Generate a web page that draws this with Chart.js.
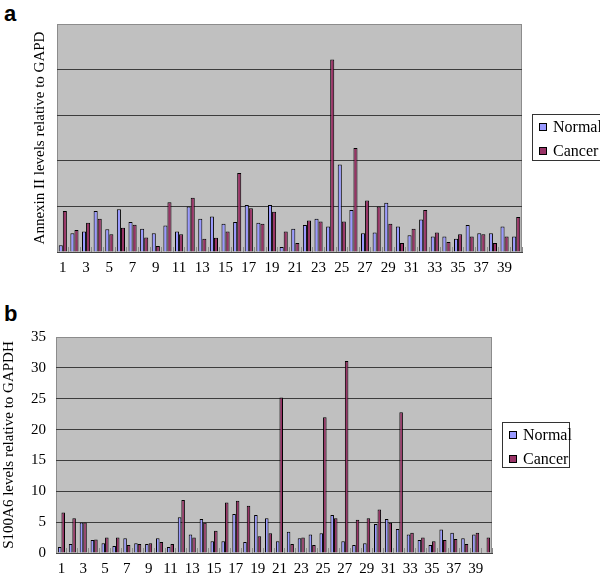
<!DOCTYPE html>
<html>
<head>
<meta charset="utf-8">
<script src="https://cdn.jsdelivr.net/npm/chart.js@4.4.0/dist/chart.umd.min.js"></script>
<style>
  body { margin: 0; background: #fff; width: 600px; height: 579px; overflow: hidden; position: relative; }
  .panel { position: absolute; left: 0; width: 600px; }
  .tag { position: absolute; font-family: "Liberation Sans", Arial, sans-serif; font-weight: bold; font-size: 22px; line-height: 22px; }
</style>
</head>
<body>
<div class="tag" style="left:4px; top:3px;">a</div>
<div class="tag" style="left:4px; top:303px;">b</div>

<div class="panel" style="top:0; height:285px;"><canvas id="chartA"></canvas></div>
<div class="panel" style="top:290px; height:289px;"><canvas id="chartB"></canvas></div>

<script>
// muestras 1..40
const samples = Array.from({length: 40}, (_, i) => String(i + 1));
const seriesNames = ['Normal', 'Cancer'];
const seriesColors = ['#9999FF', '#993366'];

// panel a: Annexin II / GAPD
const annexinNormal = [0.15, 0.41, 0.45, 0.90, 0.50, 0.94, 0.66, 0.51, 0.41, 0.58,
                       0.45, 1.00, 0.73, 0.78, 0.62, 0.66, 1.03, 0.64, 1.03, 0.11,
                       0.51, 0.59, 0.73, 0.56, 1.92, 0.92, 0.41, 0.43, 1.08, 0.56,
                       0.37, 0.71, 0.34, 0.34, 0.29, 0.59, 0.41, 0.41, 0.56, 0.34];
const annexinCancer = [0.90, 0.48, 0.64, 0.73, 0.39, 0.53, 0.60, 0.32, 0.13, 1.09,
                       0.39, 1.19, 0.29, 0.31, 0.45, 1.73, 0.96, 0.62, 0.88, 0.45,
                       0.20, 0.69, 0.67, 4.22, 0.67, 2.28, 1.13, 1.00, 0.62, 0.20,
                       0.51, 0.92, 0.43, 0.22, 0.39, 0.34, 0.39, 0.20, 0.34, 0.77];

// panel b: S100A6 / GAPDH
const s100Normal = [0.97, 1.45, 4.95, 2.10, 1.60, 1.13, 2.40, 1.60, 1.45, 2.40,
                    0.97, 5.80, 3.00, 5.50, 1.90, 1.90, 6.30, 1.80, 6.14, 5.65,
                    1.90, 3.45, 2.40, 3.00, 3.20, 6.14, 1.90, 1.30, 1.60, 4.70,
                    5.50, 3.90, 3.00, 2.10, 1.30, 3.80, 3.30, 2.40, 3.00, 0.10];
const s100Cancer = [6.57, 5.65, 4.95, 2.20, 2.50, 2.50, 1.30, 1.45, 1.60, 1.80,
                    1.45, 8.60, 2.50, 4.90, 3.60, 8.20, 8.45, 7.65, 2.70, 3.20,
                    25.2, 1.45, 2.50, 1.30, 22.0, 5.65, 31.1, 5.40, 5.65, 7.05,
                    4.90, 22.8, 3.30, 2.50, 1.90, 2.10, 2.25, 1.45, 3.30, 2.50];

const serif = "'Liberation Serif', 'Times New Roman', serif";

// fondo gris del area de trazado + borde
const plotBg = {
    id: 'plotBg',
    beforeDraw(chart) {
        const {ctx, chartArea: a} = chart;
        ctx.save();
        ctx.fillStyle = '#C0C0C0';
        ctx.fillRect(a.left, a.top, a.right - a.left, a.bottom - a.top);
        ctx.strokeStyle = '#8c8c8c';
        ctx.lineWidth = 1;
        ctx.strokeRect(a.left + 0.5, a.top + 0.5, a.right - a.left - 1, a.bottom - a.top);
        ctx.restore();
    }
};

// leyenda con recuadro, estilo Excel
const boxLegend = {
    id: 'boxLegend',
    afterDraw(chart, args, opts) {
        const ctx = chart.ctx;
        const b = opts.box;
        ctx.save();
        ctx.fillStyle = '#fff';
        ctx.fillRect(b.x, b.y, b.w, b.h);
        ctx.strokeStyle = '#333';
        ctx.lineWidth = 1;
        ctx.strokeRect(b.x + 0.5, b.y + 0.5, b.w - 1, b.h - 1);
        ctx.font = '16px ' + serif;
        ctx.textBaseline = 'middle';
        ctx.fillStyle = '#000';
        chart.data.datasets.forEach((ds, i) => {
            const cy = b.y + opts.rows[i];
            ctx.fillStyle = ds.backgroundColor;
            ctx.fillRect(b.x + 7, cy - 4, 8, 8);
            ctx.strokeStyle = '#000';
            ctx.strokeRect(b.x + 7.5, cy - 3.5, 7, 7);
            ctx.fillStyle = '#000';
            ctx.fillText(ds.label, b.x + 21, cy + 1);
        });
        ctx.restore();
    }
};

function makeChart(id, normal, cancer, cfg) {
    return new Chart(document.getElementById(id).getContext('2d'), {
        type: 'bar',
        data: {
            labels: samples,
            datasets: [
                {label: seriesNames[0], data: normal, backgroundColor: seriesColors[0], borderColor: '#000', borderWidth: 1},
                {label: seriesNames[1], data: cancer, backgroundColor: seriesColors[1], borderColor: '#000', borderWidth: 1}
            ]
        },
        options: {
            responsive: true,
            maintainAspectRatio: false,
            animation: false,
            categoryPercentage: cfg.catPct,
            barPercentage: 1.0,
            layout: {padding: {left: 0, right: cfg.right, top: cfg.top, bottom: 0}},
            plugins: {
                legend: {display: false},
                tooltip: {enabled: false},
                boxLegend: {box: cfg.legendBox, rows: [13, 37]}
            },
            scales: {
                x: {
                    grid: {display: true, drawOnChartArea: false, drawTicks: true, tickLength: -5, color: '#8a8a8a'},
                    border: {display: true, color: '#444'},
                    ticks: {
                        autoSkip: false, maxRotation: 0, padding: 12, color: '#000',
                        font: {family: serif, size: 15},
                        callback: (v, i) => i % 2 === 0 ? samples[i] : ''
                    },
                    afterFit: s => { s.height = cfg.xh; }
                },
                y: {
                    min: 0, max: cfg.max,
                    grid: {
                        drawTicks: false,
                        color: c => (c.tick.value === 0 || c.tick.value === cfg.max) ? 'rgba(0,0,0,0)' : '#3c3c3c'
                    },
                    border: {display: false},
                    ticks: {
                        display: cfg.showTicks, stepSize: cfg.step, padding: 10, color: '#000',
                        font: {family: serif, size: 15}
                    },
                    title: {
                        display: true, text: cfg.title, color: '#000',
                        font: {family: serif, size: 15},
                        padding: {top: cfg.titlePad, bottom: 0}
                    },
                    afterFit: s => { s.width = cfg.yw; }
                }
            }
        },
        plugins: [plotBg, boxLegend]
    });
}

makeChart('chartA', annexinNormal, annexinCancer, {
    max: 5, step: 1, showTicks: false, title: 'Annexin II levels relative to GAPD',
    titlePad: 31, yw: 57, right: 78, top: 24, xh: 33, catPct: 0.7,
    legendBox: {x: 532, y: 114, w: 70, h: 47}
});
makeChart('chartB', s100Normal, s100Cancer, {
    max: 35, step: 5, showTicks: true, title: 'S100A6 levels relative to GAPDH',
    titlePad: 0, yw: 56, right: 108, top: 47, xh: 26, catPct: 0.65,
    legendBox: {x: 502, y: 132, w: 68, h: 46}
});
</script>
</body>
</html>
